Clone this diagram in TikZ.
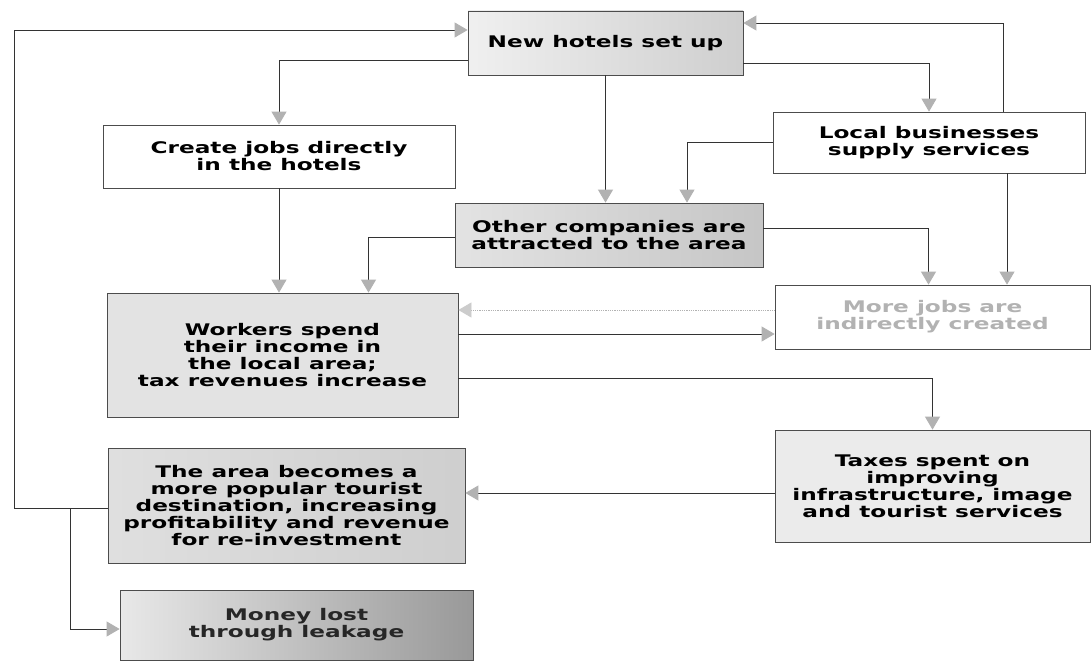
\documentclass[tikz,border=0pt]{standalone}
\usepackage{fontspec}
\newfontfamily\boxfont[FakeStretch=1.45]{DejaVu Sans}
\usetikzlibrary{arrows.meta}
\begin{document}
\begin{tikzpicture}[x=1pt,y=-1pt,
  box/.style={draw=gray!60!black, line width=0.8pt, inner sep=0pt, align=center,
    font=\boxfont\bfseries\fontsize{16}{17}\selectfont},
  conn/.style={draw=gray!40!black, line width=0.9pt},
  arr/.style={conn, -{Triangle[width=15pt,length=13pt,fill=gray!60,color=gray!60]}},
  arrlight/.style={draw=gray!60, line width=0.8pt, densely dotted,
    -{Triangle[width=15pt,length=13pt,fill=gray!40,color=gray!40]}}
]
\useasboundingbox (0,0) rectangle (1092,661);
\fill[white] (0,0) rectangle (1092,661);

\node[box, minimum width=275pt, minimum height=64pt, left color=gray!12, right color=gray!38] (hotels) at (605.5,43) {New hotels set up};
\node[box, minimum width=352pt, minimum height=63pt, fill=white] (create) at (279,156.5) {Create jobs directly\\in the hotels};
\node[box, minimum width=312pt, minimum height=61pt, fill=white] (local) at (929,142.5) {Local businesses\\supply services};
\node[box, minimum width=308pt, minimum height=64pt, left color=gray!22, right color=gray!45] (other) at (609,235) {Other companies are\\attracted to the area};
\node[box, minimum width=351pt, minimum height=124pt, fill=gray!22] (workers) at (282.5,355) {Workers spend\\their income in\\the local area;\\tax revenues increase};
\node[box, minimum width=315pt, minimum height=64pt, fill=white, text=gray!60] (morejobs) at (932.5,317) {More jobs are\\indirectly created};
\node[box, minimum width=315pt, minimum height=112pt, fill=gray!16] (taxes) at (932.5,486) {Taxes spent on\\improving\\infrastructure, image\\and tourist services};
\node[box, minimum width=357pt, minimum height=115pt, left color=gray!25, right color=gray!38] (area) at (286.5,505.5) {The area becomes a\\more popular tourist\\destination, increasing\\profitability and revenue\\for re-investment};
\node[box, minimum width=353pt, minimum height=70pt, left color=gray!18, right color=gray!80, text=black!85] (money) at (296.5,625) {Money lost\\through leakage};

% connectors
\draw[arr] ([yshift=-17pt]hotels.west) -| (create.north);
\draw[arr] (hotels.south) -- (hotels.south |- other.north);
\draw[arr] ([yshift=-20pt]hotels.east) -| (local.north);
\draw[arr] ([xshift=74pt]local.north) |- ([yshift=20pt]hotels.east);
\draw[arr] (local.west) -| ([xshift=78pt]other.north);
\draw[arr] ([xshift=78pt]local.south) -- ([xshift=78pt]local.south |- morejobs.north);
\draw[arr] ([yshift=7pt]other.east) -| ([xshift=-4pt]morejobs.north);
\draw[arr] ([yshift=-2pt]other.west) -| ([xshift=86pt]workers.north);
\draw[arr] (create.south) -- (create.south |- workers.north);

\coordinate (m1) at ([yshift=7pt]morejobs.west);
\draw[arrlight] (m1) -- (m1 -| workers.east);
\coordinate (w1) at ([yshift=21pt]workers.east);
\draw[arr] (w1) -- (w1 -| morejobs.west);
\coordinate (w2) at ([yshift=-23pt]workers.east);
\draw[arr] (w2) -| (taxes.north);
\coordinate (t1) at ([yshift=-7pt]taxes.west);
\draw[arr] (t1) -- (t1 -| area.east);

\coordinate (a1) at ([yshift=-2.5pt]area.west);
\coordinate (h1) at ([yshift=13pt]hotels.west);
\coordinate (L) at (14,0);
\draw[arr] (a1) -- (a1 -| L) -- (h1 -| L) -- (h1);
\coordinate (B) at (70,0);
\coordinate (mo) at ([yshift=-4pt]money.west);
\draw[arr] (a1 -| B) -- (mo -| B) -- (mo);
\end{tikzpicture}
\end{document}
